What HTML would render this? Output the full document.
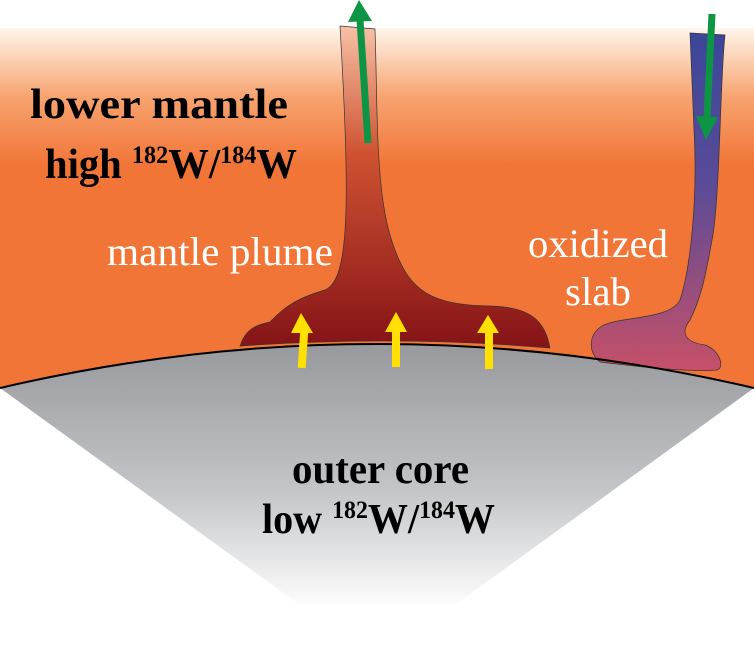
<!DOCTYPE html>
<html><head><meta charset="utf-8"><style>
html,body{margin:0;padding:0;background:#fff;}
svg{display:block}
text{font-family:"Liberation Serif",serif;}
</style></head><body>
<svg width="754" height="653" viewBox="0 0 754 653" xmlns="http://www.w3.org/2000/svg">
<defs>
<linearGradient id="mant" gradientUnits="userSpaceOnUse" x1="0" y1="28" x2="0" y2="165">
<stop offset="0" stop-color="#fff6ec"/><stop offset="0.5" stop-color="#f7a470"/><stop offset="1" stop-color="#f27538"/></linearGradient>
<linearGradient id="core" gradientUnits="userSpaceOnUse" x1="0" y1="345" x2="0" y2="610">
<stop offset="0" stop-color="#97999d"/><stop offset="0.55" stop-color="#c4c5c8"/><stop offset="1" stop-color="#ffffff"/></linearGradient>
<linearGradient id="plume" gradientUnits="userSpaceOnUse" x1="0" y1="25" x2="0" y2="345">
<stop offset="0" stop-color="#f7c2a6"/><stop offset="0.4" stop-color="#cf5232"/><stop offset="1" stop-color="#861417"/></linearGradient>
<linearGradient id="slab" gradientUnits="userSpaceOnUse" x1="0" y1="32" x2="0" y2="370">
<stop offset="0" stop-color="#3c4699"/><stop offset="0.45" stop-color="#5a4b98"/><stop offset="1" stop-color="#c65068"/></linearGradient>
</defs>
<path d="M0,28 H754 V388 Q377,300 0,388 Z" fill="url(#mant)"/>
<path d="M0,388 Q377,300 754,388 L455,605 L300,605 Z" fill="url(#core)"/>
<path d="M340,26 L375,29 C378,120 375,200 395,250 C410,290 430,305 490,306 C530,307 545,320 550,348 Q400,335 240,346 C245,330 255,325 270,322 C280,312 290,300 325,290 C350,280 350,200 340,26 Z" fill="url(#plume)" stroke="#333" stroke-width="0.7"/>
<path d="M690,33 L725,35 C720,80 720,200 712,240 C705,280 700,300 690,320 C680,333 685,342 705,345 C720,350 725,368 717,370 C690,372 650,368 600,362 C588,352 588,335 602,326 C620,316 670,320 680,300 C690,270 698,200 694,130 Z" fill="url(#slab)" stroke="#333" stroke-width="0.7"/>
<path d="M0,388 Q377,300 754,388" fill="none" stroke="#000" stroke-width="2"/>
<line x1="368" y1="143" x2="360" y2="20" stroke="#0d9444" stroke-width="7"/>
<polygon points="348,22 359,0 372,21" fill="#0d9444"/>
<line x1="712" y1="14" x2="707" y2="118" stroke="#0d9444" stroke-width="7"/>
<polygon points="696,116 706,140 718,117" fill="#0d9444"/>
<g fill="#ffe000">
<rect x="299" y="330" width="8" height="38" transform="rotate(4 303 349)"/>
<polygon points="291,333 301,313 313,333"/>
<rect x="392" y="330" width="8" height="37"/>
<polygon points="385,332 396,312 407,332"/>
<rect x="485" y="330" width="8" height="39"/>
<polygon points="477,333 488,315 499,333"/>
</g>
<text x="30" y="118" font-size="42" font-weight="bold" fill="#000" textLength="258" lengthAdjust="spacingAndGlyphs">lower mantle</text>
<text x="45" y="178" font-size="42" font-weight="bold" fill="#000" textLength="252" lengthAdjust="spacingAndGlyphs">high <tspan font-size="25" dy="-15">182</tspan><tspan dy="15">W/</tspan><tspan font-size="25" dy="-15">184</tspan><tspan dy="15">W</tspan></text>
<text x="107" y="265" font-size="40" fill="#fff" textLength="226" lengthAdjust="spacingAndGlyphs">mantle plume</text>
<text x="528" y="257" font-size="40" fill="#fff" textLength="140" lengthAdjust="spacingAndGlyphs">oxidized</text>
<text x="565" y="305" font-size="40" fill="#fff" textLength="66" lengthAdjust="spacingAndGlyphs">slab</text>
<text x="292" y="483" font-size="42" font-weight="bold" fill="#000" textLength="177" lengthAdjust="spacingAndGlyphs">outer core</text>
<text x="262" y="533" font-size="42" font-weight="bold" fill="#000" textLength="233" lengthAdjust="spacingAndGlyphs">low <tspan font-size="25" dy="-15">182</tspan><tspan dy="15">W/</tspan><tspan font-size="25" dy="-15">184</tspan><tspan dy="15">W</tspan></text>
</svg>
</body></html>
